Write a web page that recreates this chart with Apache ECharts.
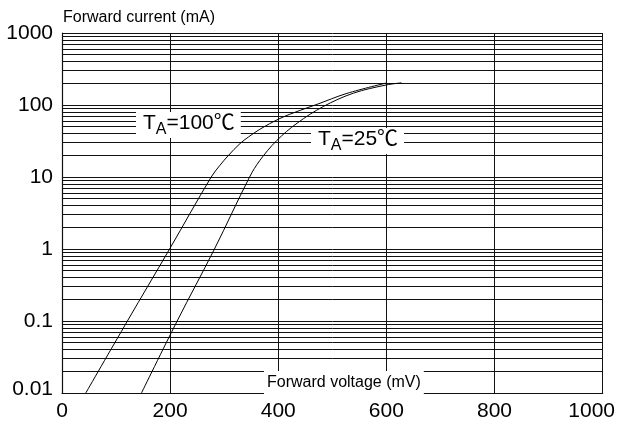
<!DOCTYPE html>
<html>
<head>
<meta charset="utf-8">
<script src="https://cdn.jsdelivr.net/npm/echarts@6/dist/echarts.min.js"></script>
<style>
html,body{margin:0;padding:0;background:#fff;}
#chart{width:618px;height:424px;}
</style>
</head>
<body>
<div id="chart"></div>
<script>
// Forward voltage (mV) vs forward current (mA)
const curve100 = [[44,0.01],[121,0.1],[199,1],[276,10],[292,14.5],[308,20],[329,29],[345,36],[366,46],[403,65],[440,84],[470,101],[527,145],[600,202]];
const curve25 = [[147,0.01],[213,0.1],[282,1],[347,10],[366,17],[397,32],[435,56],[483,95],[539,146],[600,190],[628,203]];
const xTicks = [0,200,400,600,800,1000];
const yTicks = [0.01,0.1,1,10,100,1000];
const decades = [0.01,0.1,1,10,100];
const minorSteps = [2,3,4,5,6,7,8,9];
const label100 = 'T_A=100℃';
const label25 = 'T_A=25℃';
const yTitle = 'Forward current (mA)';
const xTitle = 'Forward voltage (mV)';

const minorLines = [];
decades.forEach(d => minorSteps.forEach(m => minorLines.push({yAxis: +(d*m).toPrecision(6)})));

const FONT = '"Liberation Sans", Arial, "Noto Sans CJK SC", sans-serif';
const chart = echarts.init(document.getElementById('chart'), null, {renderer:'canvas'});
const lineColor = '#111';

function taRich(txt){
  const parts = txt.split('_A');
  return '{t|' + parts[0] + '}{s|A}{t|' + parts[1] + '}';
}
const richStyle = {
  t: {fontSize: 21, fontFamily: FONT, fill: '#000', color:'#000', lineHeight: 24, verticalAlign: 'top'},
  s: {fontSize: 16, fontFamily: FONT, fill: '#000', color:'#000', lineHeight: 16, padding:[9,0,0,0], verticalAlign: 'top'}
};

chart.setOption({
  animation: false,
  backgroundColor: '#fff',
  grid: {left: 62, right: 15, top: 33, bottom: 31, containLabel: false},
  xAxis: {
    type: 'value', min: xTicks[0], max: xTicks[xTicks.length-1], interval: 200,
    axisLine: {show: true, lineStyle: {color: lineColor, width: 1.2}},
    axisTick: {show: false},
    splitLine: {show: true, lineStyle: {color: lineColor, width: 1}},
    axisLabel: {
      color: '#000', fontSize: 21, fontFamily: FONT, margin: 8,
      formatter: v => v === 1000 ? '{m|' + v + '}' : String(v),
      rich: {m: {fontSize: 21, fontFamily: FONT, color: '#000', padding: [0, 22, 0, 0]}}
    }
  },
  yAxis: {
    type: 'log', logBase: 10, min: yTicks[0], max: yTicks[yTicks.length-1],
    axisLine: {show: true, lineStyle: {color: lineColor, width: 1.2}},
    axisTick: {show: false},
    splitLine: {show: true, lineStyle: {color: lineColor, width: 1}},
    axisLabel: {
      color: '#000', fontSize: 21, fontFamily: FONT, margin: 9,
      formatter: v => v < 0.011 ? '{d|' + String(+(+v).toPrecision(6)) + '}' : String(+(+v).toPrecision(6)),
      rich: {d: {fontSize: 21, fontFamily: FONT, color: '#000', padding: [0, 0, 7, 0]}}
    }
  },
  series: [
    {
      type: 'line', data: [], z: 1, silent: true,
      markLine: {
        silent: true, symbol: ['none','none'], label: {show: false},
        lineStyle: {color: lineColor, width: 1, type: 'solid'},
        emphasis: {disabled: true},
        animation: false,
        data: minorLines
      }
    },
    {
      type: 'line', data: curve100, smooth: 0.35, showSymbol: false, z: 5,
      lineStyle: {color: '#000', width: 1}
    },
    {
      type: 'line', data: curve25, smooth: 0.35, showSymbol: false, z: 5,
      lineStyle: {color: '#000', width: 1}
    }
  ],
  graphic: [
    {type: 'text', x: 63, y: 17.5, z: 20, style: {text: yTitle, font: '16px ' + FONT, fill: '#000', align: 'left', verticalAlign: 'middle'}},
    {type: 'text', x: 264, y: 383, z: 20, style: {text: xTitle, font: '16px ' + FONT, fill: '#000', align: 'left', verticalAlign: 'middle', backgroundColor: '#fff', padding: [4, 3, 4, 3]}},
    {type: 'text', x: 136, y: 112, z: 20, style: {text: taRich(label100), rich: richStyle, fill: '#000', align: 'left', verticalAlign: 'top', backgroundColor: '#fff', padding: [1, 6, 1, 7]}},
    {type: 'text', x: 311, y: 128, z: 20, style: {text: taRich(label25), rich: richStyle, fill: '#000', align: 'left', verticalAlign: 'top', backgroundColor: '#fff', padding: [1, 6, 1, 7]}}
  ]
});
</script>
</body>
</html>
